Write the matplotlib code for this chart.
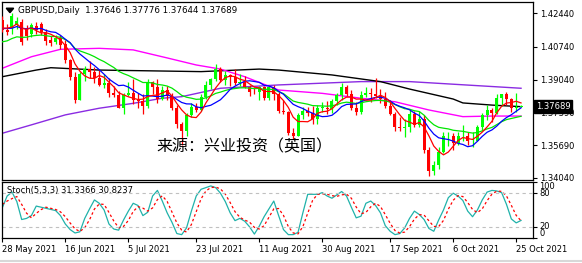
import numpy as np
import pandas as pd
import matplotlib
matplotlib.use("Agg")
import matplotlib.pyplot as plt

# ---- data (GBPUSD daily) ----
dates = pd.bdate_range("2021-05-28", "2021-10-26")

# closes before the visible window (only feed the moving averages)
closes_prior = [1.3893, 1.3903, 1.3905, 1.3996, 1.4140, 1.4134, 1.4058, 1.4072, 1.4094,
                1.4149, 1.4217, 1.4117, 1.4184, 1.4155, 1.4149, 1.4204, 1.4125, 1.4203]

opens = [1.4210, 1.4160, 1.4169, 1.4185, 1.4200, 1.4165, 1.4140, 1.4180, 1.4190, 1.4150,
         1.4110, 1.4095, 1.4120, 1.4085, 1.4005, 1.3920, 1.3803, 1.3933, 1.3960, 1.3946,
         1.3914, 1.3877, 1.3887, 1.3836, 1.3828, 1.3761, 1.3825, 1.3837, 1.3799, 1.3795,
         1.3771, 1.3892, 1.3866, 1.3808, 1.3850, 1.3822, 1.3760, 1.3677, 1.3643, 1.3723,
         1.3765, 1.3748, 1.3818, 1.3878, 1.3908, 1.3959, 1.3904, 1.3927, 1.3921, 1.3890,
         1.3895, 1.3869, 1.3841, 1.3840, 1.3868, 1.3809, 1.3866, 1.3833, 1.3743, 1.3740,
         1.3632, 1.3618, 1.3722, 1.3743, 1.3734, 1.3704, 1.3762, 1.3762, 1.3757, 1.3795,
         1.3827, 1.3868, 1.3831, 1.3760, 1.3742, 1.3829, 1.3839, 1.3831, 1.3822, 1.3806,
         1.3772, 1.3727, 1.3662, 1.3658, 1.3663, 1.3730, 1.3672, 1.3706, 1.3544, 1.3437,
         1.3470, 1.3537, 1.3615, 1.3617, 1.3583, 1.3615, 1.3616, 1.3590, 1.3593, 1.3664,
         1.3722, 1.3748, 1.3734, 1.3812, 1.3830, 1.3804, 1.3760, 1.37646]
highs = [1.4228, 1.4190, 1.4245, 1.4225, 1.4215, 1.4185, 1.4195, 1.4200, 1.4200, 1.4165,
         1.4130, 1.4135, 1.4135, 1.4110, 1.4010, 1.3943, 1.3943, 1.3975, 1.4000, 1.3970,
         1.3955, 1.3935, 1.3912, 1.3875, 1.3845, 1.3835, 1.3895, 1.3908, 1.3835, 1.3830,
         1.3908, 1.3900, 1.3909, 1.3875, 1.3870, 1.3835, 1.3775, 1.3690, 1.3736, 1.3786,
         1.3785, 1.3830, 1.3897, 1.3915, 1.3983, 1.3970, 1.3950, 1.3935, 1.3960, 1.3935,
         1.3925, 1.3880, 1.3867, 1.3875, 1.3870, 1.3875, 1.3878, 1.3840, 1.3800, 1.3745,
         1.3660, 1.3737, 1.3765, 1.3765, 1.3770, 1.3773, 1.3790, 1.3795, 1.3805, 1.3835,
         1.3890, 1.3880, 1.3850, 1.3790, 1.3845, 1.3865, 1.3860, 1.3913, 1.3855, 1.3840,
         1.3800, 1.3740, 1.3715, 1.3705, 1.3749, 1.3745, 1.3745, 1.3725, 1.3560, 1.3490,
         1.3560, 1.3640, 1.3640, 1.3630, 1.3635, 1.3675, 1.3640, 1.3640, 1.3675, 1.3735,
         1.3775, 1.3760, 1.3832, 1.3834, 1.3840, 1.3810, 1.3835, 1.37776]
lows = [1.4150, 1.4135, 1.4140, 1.4165, 1.4080, 1.4110, 1.4125, 1.4140, 1.4135, 1.4080,
        1.4075, 1.4085, 1.4060, 1.3990, 1.3905, 1.3786, 1.3800, 1.3900, 1.3912, 1.3890,
        1.3870, 1.3860, 1.3815, 1.3815, 1.3760, 1.3730, 1.3820, 1.3780, 1.3760, 1.3730,
        1.3760, 1.3830, 1.3787, 1.3800, 1.3800, 1.3752, 1.3660, 1.3572, 1.3616, 1.3715,
        1.3740, 1.3745, 1.3805, 1.3855, 1.3900, 1.3895, 1.3880, 1.3875, 1.3880, 1.3870,
        1.3860, 1.3820, 1.3830, 1.3800, 1.3800, 1.3800, 1.3800, 1.3735, 1.3730, 1.3620,
        1.3600, 1.3615, 1.3705, 1.3717, 1.3680, 1.3680, 1.3740, 1.3730, 1.3735, 1.3775,
        1.3800, 1.3820, 1.3750, 1.3725, 1.3730, 1.3815, 1.3790, 1.3810, 1.3785, 1.3760,
        1.3725, 1.3645, 1.3645, 1.3610, 1.3640, 1.3665, 1.3665, 1.3530, 1.3412, 1.3420,
        1.3450, 1.3530, 1.3565, 1.3545, 1.3570, 1.3590, 1.3570, 1.3560, 1.3590, 1.3650,
        1.3700, 1.3690, 1.3730, 1.3770, 1.3775, 1.3740, 1.3740, 1.37644]
closes = [1.4160, 1.4150, 1.4230, 1.4205, 1.4095, 1.4130, 1.4185, 1.4160, 1.4150, 1.4100,
          1.4090, 1.4120, 1.4080, 1.4005, 1.3920, 1.3803, 1.3933, 1.3960, 1.3946, 1.3914,
          1.3877, 1.3887, 1.3836, 1.3828, 1.3761, 1.3825, 1.3837, 1.3799, 1.3795, 1.3771,
          1.3892, 1.3866, 1.3808, 1.3850, 1.3822, 1.3760, 1.3677, 1.3643, 1.3723, 1.3765,
          1.3748, 1.3818, 1.3878, 1.3908, 1.3959, 1.3904, 1.3927, 1.3921, 1.3890, 1.3895,
          1.3869, 1.3841, 1.3840, 1.3868, 1.3809, 1.3866, 1.3833, 1.3743, 1.3740, 1.3632,
          1.3618, 1.3722, 1.3743, 1.3734, 1.3704, 1.3762, 1.3762, 1.3757, 1.3795, 1.3827,
          1.3868, 1.3831, 1.3760, 1.3742, 1.3829, 1.3839, 1.3831, 1.3822, 1.3806, 1.3772,
          1.3727, 1.3662, 1.3658, 1.3663, 1.3730, 1.3672, 1.3706, 1.3544, 1.3437, 1.3470,
          1.3537, 1.3615, 1.3617, 1.3583, 1.3615, 1.3616, 1.3590, 1.3593, 1.3664, 1.3722,
          1.3748, 1.3734, 1.3812, 1.3830, 1.3804, 1.3760, 1.3767, 1.37689]

# stochastic main line, one value per bar
stoch_main = [54, 75, 82, 65, 33, 35, 40, 57, 55, 53,
              51, 49, 40, 25, 15, 9, 11, 35, 52, 68,
              62, 50, 25, 16, 14, 32, 48, 62, 58, 40,
              46, 75, 85, 66, 45, 28, 8, 6, 18, 48,
              75, 87, 90, 93, 90, 80, 65, 45, 31, 35,
              30, 20, 7, 21, 38, 52, 66, 40, 15, 6,
              6, 10, 45, 78, 78, 78, 81, 75, 71, 77,
              83, 75, 55, 36, 39, 62, 66, 58, 45, 22,
              12, 6, 8, 18, 35, 48, 42, 33, 17, 12,
              32, 50, 72, 80, 75, 67, 48, 38, 50, 68,
              82, 85, 84, 81, 60, 34, 27, 31.3366]
stoch_sig_first = [60, 66]

# long moving averages sampled from the chart (bar index, price)
ma_magenta_idx = [0, 6, 12, 20, 27, 34, 40, 45, 50, 57, 66, 74, 81, 88, 95, 101, 107]
ma_magenta = [1.3963, 1.4022, 1.4060, 1.4065, 1.4057, 1.4016, 1.3980, 1.3959, 1.3920,
              1.3852, 1.3835, 1.3810, 1.3792, 1.3750, 1.3716, 1.3719, 1.3719]
ma_black_idx = [0, 7, 10, 20, 41, 53, 57, 68, 78, 84, 93, 95, 101, 107]
ma_black = [1.3920, 1.3954, 1.3966, 1.3954, 1.3946, 1.3959, 1.3954, 1.3929, 1.3895,
            1.3857, 1.3806, 1.3786, 1.3775, 1.3767]
ma_purple_idx = [0, 6, 13, 20, 27, 33, 37, 45, 57, 74, 84, 107]
ma_purple = [1.3631, 1.3674, 1.3725, 1.3759, 1.3784, 1.3810, 1.3818, 1.3861, 1.3878,
             1.3895, 1.3895, 1.3861]

price_ticks = [1.42440, 1.40740, 1.39040, 1.37390, 1.35690, 1.34040]
date_ticks = ["28 May 2021", "16 Jun 2021", "5 Jul 2021", "23 Jul 2021", "11 Aug 2021",
              "30 Aug 2021", "17 Sep 2021", "6 Oct 2021", "25 Oct 2021"]
last_price = 1.37689
stoch_main_last, stoch_sig_last = 31.3366, 30.8237

# ---- derived series ----
df = pd.DataFrame({"o": opens, "h": highs, "l": lows, "c": closes}, index=dates)
x = np.arange(len(df))
n_prior = len(closes_prior)
all_c = pd.Series(closes_prior + closes, dtype=float)
ma5 = all_c.rolling(5, min_periods=1).mean().iloc[n_prior:].values
ma10 = all_c.rolling(10, min_periods=1).mean().iloc[n_prior:].values
ema20 = all_c.ewm(span=20, adjust=False).mean().iloc[n_prior:].values

k = pd.Series(stoch_main, dtype=float)
d = k.rolling(3).mean()
d.iloc[:2] = stoch_sig_first

W, H = 582, 263
fig = plt.figure(figsize=(W / 100, H / 100), dpi=100)
ax = fig.add_axes([2 / W, 1 - 180 / H, 531 / W, 178 / H])
ax2 = fig.add_axes([2 / W, 1 - 238 / H, 531 / W, 56 / H])

px_per_bar = 4.848
xmin = -0.3 / px_per_bar
xmax = xmin + 531 / px_per_bar

bull = "#00ff00"
bear = "#ff0000"
up = df.c >= df.o
cols = np.where(up, bull, bear)
ax.vlines(x, df.l, df.h, colors=cols, linewidth=0.9, zorder=3)
body_lo = np.minimum(df.o, df.c)
body_h = np.maximum(np.abs(df.c - df.o), 0.00012)
ax.bar(x, body_h, bottom=body_lo, width=0.62, color=cols, linewidth=0, zorder=3)

ax.plot(ma_purple_idx, ma_purple, color="#8a2be2", lw=1.0, zorder=2)
ax.plot(ma_black_idx, ma_black, color="black", lw=1.0, zorder=2)
ax.plot(ma_magenta_idx, ma_magenta, color="#ff00ff", lw=1.0, zorder=2)
ax.plot(x, ema20, color="#00e600", lw=0.9, zorder=4)
ax.plot(x, ma10, color="#0000ff", lw=0.9, zorder=4)
ax.plot(x, ma5, color="#ff0000", lw=0.9, zorder=4)

y_top = 1.42440 + 11.3 * 0.000511
y_bot = 1.34040 - 2.3 * 0.000511
ax.set_xlim(xmin, xmax)
ax.set_ylim(y_bot, y_top)
ax.set_xticks([])
ax.yaxis.tick_right()
ax.set_yticks(price_ticks)
ax.set_yticklabels([f"{p:.5f}" for p in price_ticks])
ax.tick_params(axis="y", direction="out", length=3, width=0.8, pad=2, labelsize=6)
for s in ax.spines.values():
    s.set_linewidth(0.9)

ax.text(0.03, 0.975, "GBPUSD,Daily  1.37646 1.37776 1.37644 1.37689",
        transform=ax.transAxes, fontsize=6.3, va="top", ha="left")
ax.fill([0.008, 0.022, 0.015], [0.965, 0.965, 0.94], transform=ax.transAxes, color="black")

fig.text(156 / W, 1 - 147 / H, "来源：兴业投资（英国）", fontsize=11.5, va="center",
         ha="left", family=["Noto Sans CJK SC", "DejaVu Sans"])

ax.text(1.005, (last_price - y_bot) / (y_top - y_bot), f"{last_price:.5f}",
        transform=ax.transAxes, fontsize=6, color="white", va="center", ha="left",
        bbox=dict(boxstyle="square,pad=0.25", fc="black", ec="black"), zorder=10,
        clip_on=False)

# stochastic panel
ax2.plot(x, k, color="#20b2aa", lw=0.9)
ax2.plot(x, d, color="#ff0000", lw=0.9, ls=(0, (2, 2)))
ax2.axhline(80, color="#c0c0c0", lw=0.8, ls=(0, (3, 3)))
ax2.axhline(20, color="#c0c0c0", lw=0.8, ls=(0, (3, 3)))
ax2.set_xlim(xmin, xmax)
ax2.set_ylim(0, 100)
ax2.yaxis.tick_right()
ax2.set_yticks([100, 80, 20, 0])
ax2.set_yticklabels([])
ax2.tick_params(axis="y", direction="out", length=3, width=0.8)
for val, va in [(100, "top"), (80, "center"), (20, "center"), (0, "bottom")]:
    ax2.text(1.012, val / 100.0, str(val), transform=ax2.transAxes, fontsize=6,
             va=va, ha="left", clip_on=False)
tick_pos = [0, 13, 26, 40, 53, 66, 80, 93, 106]
ax2.set_xticks(tick_pos)
ax2.set_xticklabels(date_ticks, ha="left")
ax2.tick_params(axis="x", direction="out", length=3, width=0.8, pad=2, labelsize=6)
for s in ax2.spines.values():
    s.set_linewidth(0.9)
ax2.text(0.01, 0.93, f"Stoch(5,3,3) {stoch_main_last:.4f} {stoch_sig_last:.4f}",
         transform=ax2.transAxes, fontsize=6, va="top", ha="left")

fig.add_artist(plt.Line2D([0, 1], [2.5 / H, 2.5 / H], color="#d8d8d8", lw=1.5))

fig.savefig("out.png", dpi=100)
